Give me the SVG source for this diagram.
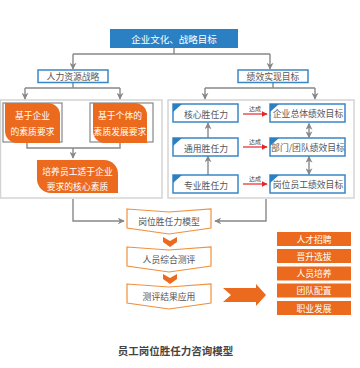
<svg xmlns="http://www.w3.org/2000/svg" width="360" height="368" viewBox="0 0 360 368">
<defs>
<style>
text{font-family:"Noto Sans CJK SC","Liberation Sans",sans-serif;text-anchor:middle;dominant-baseline:central}
.t{font-size:8.8px;fill:#555}
.w{font-size:8.8px;fill:#fff}
.bn{fill:#fff;stroke:#3a87c8;stroke-width:1.5}
.or{fill:#eb6a1e}
.gb{fill:none;stroke:#888;stroke-width:1.2}
.pan{fill:#fff;stroke:#d4d4d4;stroke-width:1.5}
.ln{fill:none;stroke:#888;stroke-width:1.4}
.rd{fill:none;stroke:#e8262a;stroke-width:1.2}
.ch{fill:#fff;stroke:#f0913e;stroke-width:1.2}
.tri{fill:#2b7fc3}
</style>
<marker id="ga" viewBox="0 0 10 10" refX="9" refY="5" markerWidth="5" markerHeight="5" orient="auto-start-reverse"><path d="M0,0L10,5L0,10L3,5z" fill="#888"/></marker>
<marker id="ra" viewBox="0 0 10 10" refX="9" refY="5" markerWidth="5" markerHeight="5" orient="auto"><path d="M0,0L10,5L0,10z" fill="#e8262a"/></marker>
</defs>
<rect width="360" height="368" fill="#fff"/>

<rect id="panel-left" class="pan" x="0.5" y="100" width="161.5" height="98"/>
<rect id="panel-right" class="pan" x="168" y="100" width="186" height="98"/>

<g id="connectors">
<path class="ln" d="M174,48V54M73,54H270" />
<path class="ln" d="M73,54V69" marker-end="url(#ga)"/>
<path class="ln" d="M270,54V69" marker-end="url(#ga)"/>
<path class="ln" d="M73,82V88M25,88H120"/>
<path class="ln" d="M25,88V99" marker-end="url(#ga)"/>
<path class="ln" d="M120,88V99" marker-end="url(#ga)"/>
<path class="ln" d="M273,82V88M205,88H315"/>
<path class="ln" d="M205,88V99" marker-end="url(#ga)"/>
<path class="ln" d="M315,88V99" marker-end="url(#ga)"/>
<path class="ln" d="M27,142V148H120V142M73,148V158" marker-end="url(#ga)"/>
<path class="ln" d="M73,199V221H124" marker-end="url(#ga)"/>
<path class="ln" d="M266,199V221H215" marker-end="url(#ga)"/>
<path class="ln" d="M208,138V123" marker-end="url(#ga)"/>
<path class="ln" d="M208,175V156" marker-end="url(#ga)"/>
<path class="ln" d="M309,123.5V137.5" marker-start="url(#ga)" marker-end="url(#ga)"/>
<path class="ln" d="M309,156.5V174.5" marker-start="url(#ga)" marker-end="url(#ga)"/>
<path class="rd" d="M243,114H267" marker-end="url(#ra)"/>
<path class="rd" d="M243,147H267" marker-end="url(#ra)"/>
<path class="rd" d="M243,184H267" marker-end="url(#ra)"/>
<text x="255" y="108" style="font-size:6px;fill:#444">达成</text>
<text x="255" y="141" style="font-size:6px;fill:#444">达成</text>
<text x="255" y="178" style="font-size:6px;fill:#444">达成</text>
</g>

<g id="n-top">
<rect x="110" y="29" width="128" height="19" fill="#2b7fc3"/>
<text class="w" x="174" y="38.5" style="font-size:9.5px">企业文化、战略目标</text>
</g>
<g id="n-hr">
<rect class="bn" x="38" y="70" width="70" height="12.5"/>
<text class="t" x="73" y="76.3">人力资源战略</text>
</g>
<g id="n-perf">
<rect class="bn" x="238" y="70" width="70" height="12.5"/>
<text class="t" x="273" y="76.3">绩效实现目标</text>
</g>

<g id="n-ent-req">
<rect class="gb" x="3" y="103" width="59" height="39"/>
<path class="or" d="M5,103H48A12,12 0 0 1 60,115V143H17A12,12 0 0 1 5,131Z"/>
<text class="w" x="32.5" y="115">基于企业</text>
<text class="w" x="32.5" y="131">的素质要求</text>
</g>
<g id="n-ind-req">
<rect class="gb" x="90" y="103" width="63" height="39"/>
<path class="or" d="M93,103H135A12,12 0 0 1 147,115V143H105A12,12 0 0 1 93,131Z"/>
<text class="w" x="120" y="115">基于个体的</text>
<text class="w" x="120" y="131">素质发展要求</text>
</g>
<g id="n-core">
<path class="or" d="M37,160H104A14,14 0 0 1 118,174V193H51A14,14 0 0 1 37,179Z"/>
<text class="w" x="77.5" y="171">培养员工适于企业</text>
<text class="w" x="77.5" y="186.5">要求的核心素质</text>
</g>

<g id="n-core-comp">
<rect class="bn" x="173" y="104" width="65" height="18"/>
<path class="tri" d="M173,104H182L173,112Z"/>
<text class="t" x="206" y="114">核心胜任力</text>
</g>
<g id="n-gen-comp">
<rect class="bn" x="173" y="138" width="65" height="18"/>
<path class="tri" d="M173,138H182L173,146Z"/>
<text class="t" x="206" y="148">通用胜任力</text>
</g>
<g id="n-pro-comp">
<rect class="bn" x="173" y="175" width="65" height="18"/>
<path class="tri" d="M173,175H182L173,183Z"/>
<text class="t" x="206" y="185">专业胜任力</text>
</g>
<g id="n-ent-goal">
<rect class="bn" x="270" y="104" width="75" height="18"/>
<path class="tri" d="M270,104H279L270,112Z"/>
<text class="t" x="308" y="113">企业总体绩效目标</text>
</g>
<g id="n-team-goal">
<rect class="bn" x="270" y="138" width="75" height="18"/>
<path class="tri" d="M270,138H279L270,146Z"/>
<text class="t" x="308" y="147.5">部门/团队绩效目标</text>
</g>
<g id="n-post-goal">
<rect class="bn" x="270" y="175" width="75" height="18"/>
<path class="tri" d="M270,175H279L270,183Z"/>
<text class="t" x="308" y="184.5">岗位员工绩效目标</text>
</g>

<g id="n-model">
<path class="ch" d="M127,209L169,212L211,209V228L169,234L127,228Z"/>
<text class="t" x="169" y="221.5">岗位胜任力模型</text>
</g>
<path class="or" d="M163,237L170,241L177,237V242L170,247L163,242Z"/>
<g id="n-eval">
<path class="ch" d="M127,247L169,250L211,247V266L169,272L127,266Z"/>
<text class="t" x="169" y="259.5">人员综合测评</text>
</g>
<path class="or" d="M163,274L170,278L177,274V279L170,284L163,279Z"/>
<g id="n-apply">
<path class="ch" d="M127,284L169,287L211,284V303L169,309L127,303Z"/>
<text class="t" x="169" y="296.5">测评结果应用</text>
</g>
<path id="big-arrow" class="or" d="M223,288H256V284L266,295L256,306V302H223L231,295Z"/>

<g id="n-recruit"><rect class="or" x="277" y="232" width="74" height="14"/><text class="w" x="314" y="239">人才招聘</text></g>
<g id="n-promote"><rect class="or" x="277" y="249" width="74" height="14"/><text class="w" x="314" y="256">晋升选拔</text></g>
<g id="n-train"><rect class="or" x="277" y="266.5" width="74" height="14"/><text class="w" x="314" y="273.5">人员培养</text></g>
<g id="n-team"><rect class="or" x="277" y="283.5" width="74" height="14"/><text class="w" x="314" y="290.5">团队配置</text></g>
<g id="n-career"><rect class="or" x="277" y="301" width="74" height="14"/><text class="w" x="314" y="308">职业发展</text></g>

<text x="175.5" y="350" style="font-size:10.5px;font-weight:bold;fill:#444">员工岗位胜任力咨询模型</text>
</svg>
